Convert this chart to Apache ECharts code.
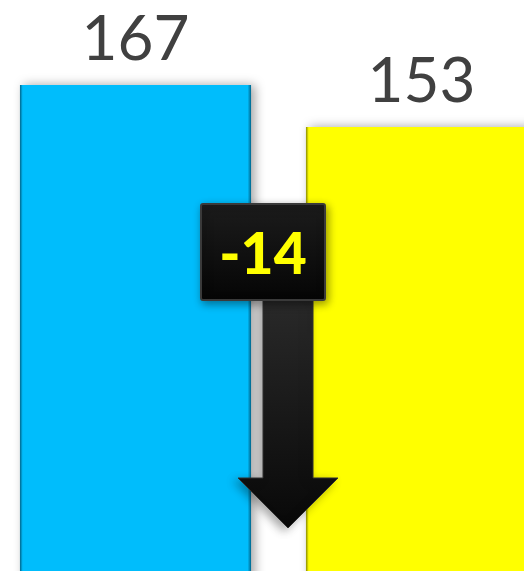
<!DOCTYPE html>
<html>
<head>
<meta charset="utf-8">
<script src="https://cdn.jsdelivr.net/npm/echarts@6/dist/echarts.min.js"></script>
<style>
    html, body { margin: 0; padding: 0; background: #fff; }
    #chart { width: 524px; height: 571px; }
</style>
</head>
<body>
<div id="chart"></div>
<script>
// 数据
const categories = ['Before', 'After']
const values     = [167, 153]
const barColors  = ['#00BDFC', '#FFFF00']
const edgeColors = ['#00658a', '#8a8a00']

!function(){

    const chart = echarts.init(document.getElementById('chart'))

    // 差值
    const diff = values[1] - values[0]

    // 柱子颜色，左右边缘略暗，模拟斜面
    const barStyle = (i) => ({
        color: {
            type: 'linear', x: 0, y: 0, x2: 1, y2: 0,
            colorStops: [
                { offset: 0,     color: edgeColors[i] },
                { offset: 0.012, color: barColors[i] },
                { offset: 0.985, color: barColors[i] },
                { offset: 1,     color: edgeColors[i] },
            ]
        },
        shadowBlur: 10,
        shadowOffsetX: 4,
        shadowOffsetY: 0,
        shadowColor: 'rgba(0,0,0,0.35)',
    })

    let option = {
        animation: false,
        backgroundColor: '#fff',
        grid: { left: -7.5, right: -40.5, top: 16, bottom: -15, outerBoundsMode: 'none', containLabel: false },
        xAxis: {
            type: 'category',
            data: categories,
            show: false,
        },
        yAxis: {
            type: 'value',
            min: 0,
            max: 190,
            show: false,
        },
        series: [{
            type: 'bar',
            barCategoryGap: '19.2%',
            data: values.map((v, i) => ({ value: v, itemStyle: barStyle(i) })),
            label: {
                show: true,
                position: 'top',
                distance: 14,
                color: '#404040',
                fontFamily: 'Lato',
                fontSize: 62,
            },
        }],
    }

    chart.setOption(option)

    // 箭头与差值框
    const box   = { x: 201, y: 204, w: 124, h: 96 }
    const shaft = { x: 263, y: 300, w: 50, bottom: 480 }
    const head  = { left: 238, right: 338, y: 478, tipY: 528 }
    const tipX  = (head.left + head.right) / 2

    const arrowFill = {
        type: 'linear', x: 0, y: 0, x2: 0, y2: 1,
        colorStops: [
            { offset: 0, color: '#2a2a2a' },
            { offset: 1, color: '#080808' },
        ]
    }

    chart.setOption({
        graphic: [
            {
                type: 'polygon',
                z: 100,
                shape: {
                    points: [
                        [shaft.x, shaft.y - 4],
                        [shaft.x + shaft.w, shaft.y - 4],
                        [shaft.x + shaft.w, head.y],
                        [head.right, head.y],
                        [tipX, head.tipY],
                        [head.left, head.y],
                        [shaft.x, head.y],
                    ]
                },
                style: {
                    fill: arrowFill,
                    stroke: '#303030',
                    lineWidth: 1,
                    shadowBlur: 10,
                    shadowOffsetX: -4,
                    shadowOffsetY: 3,
                    shadowColor: 'rgba(0,0,0,0.35)',
                },
            },
            {
                type: 'rect',
                z: 101,
                shape: { x: box.x, y: box.y, width: box.w, height: box.h, r: 2 },
                style: {
                    fill: {
                        type: 'linear', x: 0, y: 0, x2: 0, y2: 1,
                        colorStops: [
                            { offset: 0, color: '#1c1c1c' },
                            { offset: 1, color: '#050505' },
                        ]
                    },
                    stroke: '#3a3a3a',
                    lineWidth: 2,
                    shadowBlur: 8,
                    shadowOffsetX: 2,
                    shadowOffsetY: 3,
                    shadowColor: 'rgba(0,0,0,0.4)',
                },
            },
            {
                type: 'text',
                z: 102,
                x: box.x + box.w / 2,
                y: box.y + box.h / 2 + 4,
                style: {
                    text: String(diff),
                    fill: '#FFFF00',
                    font: '900 57px Lato',
                    align: 'center',
                    verticalAlign: 'middle',
                },
            },
        ]
    })

}()
</script>
</body>
</html>
